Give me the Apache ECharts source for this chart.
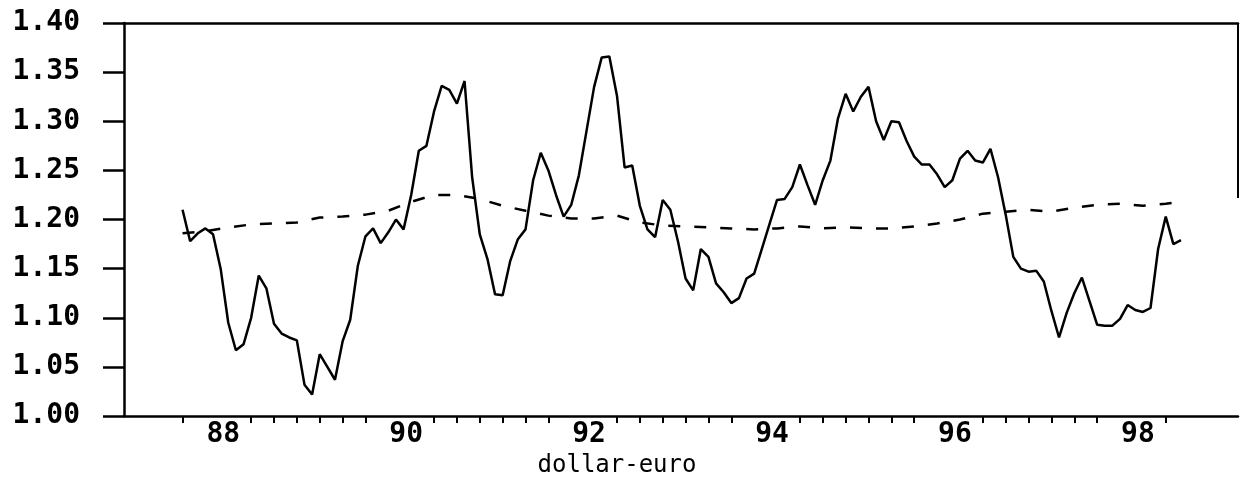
<!DOCTYPE html>
<html>
<head>
<meta charset="utf-8">
<title>dollar-euro</title>
<script src="https://cdn.jsdelivr.net/npm/echarts@6/dist/echarts.min.js"></script>
<style>
  html, body { margin: 0; padding: 0; background: #ffffff; }
  #chart { width: 1240px; height: 483px; }
</style>
</head>
<body>
<div id="chart"></div>
<script>
// Monthly dollar-euro rate, first observation mid-1987 (year 87.5)
const startYear = 87.5;
const solidRate = [
  1.210, 1.178, 1.186, 1.191, 1.185, 1.150, 1.095, 1.067, 1.073, 1.100, 1.143, 1.130,
  1.094, 1.084, 1.080, 1.077, 1.032, 1.022, 1.063, 1.050, 1.037, 1.076, 1.098, 1.153,
  1.183, 1.191, 1.176, 1.187, 1.200, 1.190, 1.225, 1.270, 1.275, 1.310, 1.336, 1.332,
  1.318, 1.341, 1.243, 1.185, 1.160, 1.124, 1.123, 1.158, 1.180, 1.190, 1.240, 1.268,
  1.250, 1.225, 1.203, 1.215, 1.245, 1.290, 1.335, 1.365, 1.366, 1.326, 1.253, 1.255,
  1.214, 1.190, 1.182, 1.220, 1.210, 1.178, 1.140, 1.128, 1.170, 1.162, 1.135, 1.126,
  1.115, 1.120, 1.140, 1.145, 1.170, 1.195, 1.220, 1.221, 1.233, 1.256, 1.235, 1.215,
  1.240, 1.260, 1.303, 1.328, 1.310, 1.325, 1.335, 1.300, 1.281, 1.300, 1.299, 1.280,
  1.264, 1.256, 1.256, 1.246, 1.233, 1.240, 1.262, 1.270, 1.260, 1.258, 1.272, 1.243,
  1.205, 1.162, 1.150, 1.147, 1.148, 1.137, 1.107, 1.080, 1.105, 1.125, 1.141, 1.117,
  1.093, 1.092, 1.092, 1.099, 1.113, 1.108, 1.106, 1.110, 1.170, 1.203, 1.175, 1.179
];

// Smooth equilibrium path (dashed), given at these month offsets
const dashedMonth = [
  0, 3, 6, 9, 12, 15, 18, 21, 24, 27, 30, 33, 36, 39, 42, 45, 48, 51, 54, 57, 60, 63,
  66, 69, 72, 75, 78, 81, 84, 87, 90, 93, 96, 99, 102, 105, 108, 111, 114, 117, 120,
  123, 126, 129, 131
];
const dashedRate = [
  1.186, 1.188, 1.192, 1.195, 1.196, 1.197, 1.202, 1.203, 1.205, 1.209, 1.218, 1.225,
  1.225, 1.221, 1.214, 1.209, 1.204, 1.201, 1.201, 1.204, 1.197, 1.194, 1.193, 1.192,
  1.191, 1.190, 1.191, 1.193, 1.191, 1.192, 1.191, 1.191, 1.193, 1.196, 1.200, 1.206,
  1.208, 1.210, 1.208, 1.212, 1.215, 1.216, 1.214, 1.216, 1.218
];

// Axis ranges and tick labels
const xMin = 86.86, xMax = 99.04;
const yMin = 1.00, yMax = 1.40, yStep = 0.05;
const yearLabels = [88, 90, 92, 94, 96, 98];
// Quarterly ticks; the two ticks under each year label are left out
const quarterTicks = [
  87.5, 88.25, 88.5, 88.75, 89.0, 89.25, 89.5,
  90.25, 90.5, 90.75, 91.0, 91.25, 91.5,
  92.25, 92.5, 92.75, 93.0, 93.25, 93.5,
  94.25, 94.5, 94.75, 95.0, 95.25, 95.5,
  96.25, 96.5, 96.75, 97.0, 97.25, 97.5,
  98.25
];
// Right frame edge only reaches down to this level
const rightEdgeLow = 1.222;
const axisTitle = 'dollar-euro';

const monoFont = '"DejaVu Sans Mono", "Liberation Mono", monospace';
const ink = '#000';

const solidData = solidRate.map((v, i) => [startYear + i / 12, v]);
const dashedData = dashedRate.map((v, i) => [startYear + dashedMonth[i] / 12, v]);

const chart = echarts.init(document.getElementById('chart'), null, { renderer: 'canvas' });

chart.setOption({
  animation: false,
  backgroundColor: '#ffffff',
  grid: { left: 124, top: 23, right: 2, bottom: 60, containLabel: false },
  xAxis: [
    {
      type: 'value',
      min: xMin,
      max: xMax,
      position: 'bottom',
      splitLine: { show: false },
      axisLine: { show: true, onZero: false, lineStyle: { color: ink, width: 2.5 } },
      axisTick: {
        show: true,
        inside: false,
        length: 7,
        customValues: quarterTicks,
        lineStyle: { color: ink, width: 2 }
      },
      axisLabel: {
        show: true,
        customValues: yearLabels,
        formatter: v => String(v),
        margin: 5,
        padding: [0, 10, 0, 0],
        color: ink,
        fontFamily: monoFont,
        fontWeight: 'bold',
        fontSize: 28
      },
      name: axisTitle,
      nameLocation: 'middle',
      nameGap: 33,
      nameTextStyle: {
        color: ink,
        fontFamily: monoFont,
        fontSize: 24,
        padding: [0, 128, 0, 0]
      }
    },
    {
      type: 'value',
      min: xMin,
      max: xMax,
      position: 'top',
      splitLine: { show: false },
      axisLine: { show: true, onZero: false, lineStyle: { color: ink, width: 2.5 } },
      axisTick: { show: false },
      axisLabel: { show: false }
    }
  ],
  yAxis: {
    type: 'value',
    min: yMin,
    max: yMax,
    interval: yStep,
    splitLine: { show: false },
    axisLine: { show: true, onZero: false, lineStyle: { color: ink, width: 2.5 } },
    axisTick: { show: true, inside: false, length: 21, lineStyle: { color: ink, width: 2.5 } },
    axisLabel: {
      margin: 44,
      color: ink,
      fontFamily: monoFont,
      fontWeight: 'bold',
      fontSize: 28,
      formatter: v => v.toFixed(2)
    }
  },
  series: [
    {
      name: 'rate',
      type: 'line',
      data: solidData,
      showSymbol: false,
      symbol: 'none',
      lineStyle: { color: ink, width: 2.5, type: 'solid' },
      z: 3
    },
    {
      name: 'equilibrium',
      type: 'line',
      data: dashedData,
      showSymbol: false,
      symbol: 'none',
      lineStyle: { color: ink, width: 2.5, type: [12, 14] },
      z: 2,
      markLine: {
        silent: true,
        symbol: 'none',
        label: { show: false },
        lineStyle: { color: ink, width: 2, type: 'solid' },
        data: [[{ coord: [xMax, yMax] }, { coord: [xMax, rightEdgeLow] }]]
      }
    }
  ]
});
</script>
</body>
</html>
